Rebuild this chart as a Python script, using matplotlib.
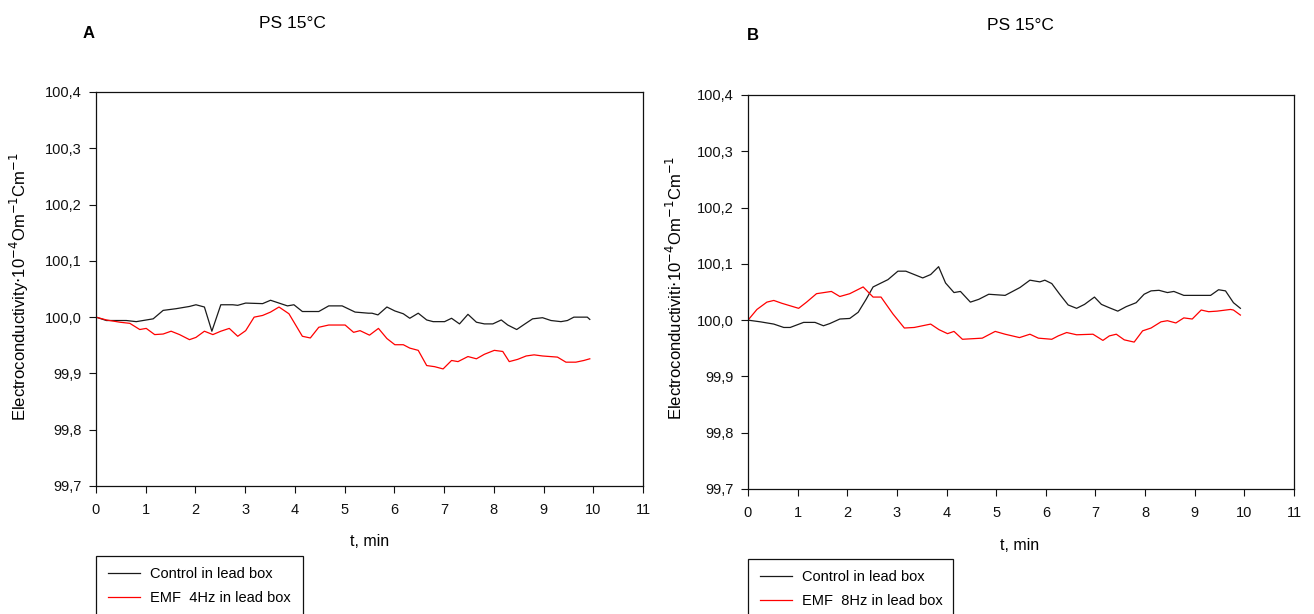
import matplotlib
matplotlib.use("Agg")
import matplotlib.pyplot as plt
from matplotlib.patches import Rectangle

plt.rcParams['font.family'] = ['Liberation Sans', 'DejaVu Sans']

# ---- Panel A: PS 15°C, control vs EMF 4 Hz ----
a_ctrl_t = [0.0, 0.21, 0.61, 0.81, 1.15, 1.35, 1.61, 1.88, 2.01, 2.18, 2.33, 2.51,
            2.75, 2.85, 3.01, 3.35, 3.51, 3.68, 3.85, 3.98, 4.15, 4.48, 4.68, 4.95,
            5.21, 5.48, 5.55, 5.67, 5.85, 6.01, 6.18, 6.31, 6.48, 6.65, 6.78, 7.01,
            7.15, 7.31, 7.48, 7.65, 7.81, 7.98, 8.15, 8.28, 8.46, 8.61, 8.78, 8.98,
            9.15, 9.35, 9.48, 9.61, 9.88, 9.93]
a_ctrl_v = [100.000, 99.994, 99.994, 99.992, 99.997, 100.012, 100.015, 100.019, 100.022,
            100.018, 99.975, 100.022, 100.022, 100.021, 100.025, 100.024, 100.030, 100.025,
            100.020, 100.022, 100.010, 100.010, 100.020, 100.020, 100.009, 100.007, 100.007,
            100.004, 100.018, 100.011, 100.006, 99.998, 100.007, 99.995, 99.992, 99.992,
            99.998, 99.988, 100.005, 99.991, 99.988, 99.988, 99.995, 99.986, 99.978,
            99.987, 99.997, 99.999, 99.994, 99.992, 99.994, 100.000, 100.000, 99.996]

a_emf_t = [0.0, 0.21, 0.48, 0.68, 0.88, 1.01, 1.18, 1.35, 1.51, 1.68, 1.88, 2.01,
           2.18, 2.35, 2.51, 2.68, 2.85, 3.01, 3.18, 3.35, 3.51, 3.68, 3.88, 4.15,
           4.31, 4.48, 4.68, 5.01, 5.18, 5.31, 5.50, 5.68, 5.85, 6.01, 6.18, 6.31,
           6.48, 6.65, 6.81, 6.98, 7.15, 7.28, 7.48, 7.65, 7.81, 8.01, 8.18, 8.31,
           8.48, 8.65, 8.81, 8.98, 9.28, 9.45, 9.65, 9.81, 9.93]
a_emf_v = [100.000, 99.995, 99.991, 99.989, 99.978, 99.980, 99.969, 99.970, 99.975,
           99.969, 99.960, 99.964, 99.975, 99.969, 99.975, 99.980, 99.966, 99.976,
           100.000, 100.003, 100.009, 100.018, 100.006, 99.966, 99.963, 99.982, 99.986,
           99.986, 99.973, 99.976, 99.968, 99.980, 99.962, 99.951, 99.951, 99.945,
           99.941, 99.914, 99.912, 99.908, 99.923, 99.921, 99.930, 99.926, 99.934,
           99.941, 99.939, 99.921, 99.925, 99.931, 99.933, 99.931, 99.929, 99.920,
           99.920, 99.923, 99.926]

# ---- Panel B: PS 15°C, control vs EMF 8 Hz ----
b_ctrl_t = [0.0, 0.25, 0.52, 0.72, 0.85, 1.12, 1.35, 1.52, 1.65, 1.85, 2.05, 2.22,
            2.38, 2.52, 2.82, 3.02, 3.18, 3.52, 3.68, 3.84, 3.98, 4.15, 4.28, 4.48,
            4.65, 4.85, 5.18, 5.48, 5.68, 5.88, 5.98, 6.12, 6.28, 6.45, 6.62, 6.78,
            6.98, 7.12, 7.28, 7.45, 7.62, 7.82, 7.98, 8.12, 8.28, 8.45, 8.58, 8.78,
            9.05, 9.32, 9.48, 9.62, 9.78, 9.92]
b_ctrl_v = [100.000, 99.997, 99.993, 99.987, 99.987, 99.996, 99.996, 99.990, 99.994,
            100.002, 100.003, 100.014, 100.037, 100.059, 100.072, 100.087, 100.087,
            100.075, 100.081, 100.095, 100.066, 100.049, 100.051, 100.032, 100.037,
            100.046, 100.044, 100.058, 100.071, 100.068, 100.071, 100.065, 100.046,
            100.027, 100.021, 100.028, 100.041, 100.028, 100.022, 100.016, 100.024,
            100.031, 100.046, 100.052, 100.053, 100.049, 100.051, 100.044, 100.044,
            100.044, 100.054, 100.052, 100.031, 100.021]

b_emf_t = [0.0, 0.18, 0.38, 0.52, 0.68, 1.02, 1.18, 1.38, 1.68, 1.85, 2.05, 2.32,
           2.52, 2.68, 2.92, 3.15, 3.35, 3.68, 3.85, 4.02, 4.15, 4.32, 4.72, 4.98,
           5.18, 5.47, 5.68, 5.85, 6.12, 6.25, 6.42, 6.62, 6.95, 7.15, 7.28, 7.42,
           7.58, 7.78, 7.95, 8.12, 8.32, 8.45, 8.62, 8.78, 8.95, 9.13, 9.28, 9.45,
           9.72, 9.78, 9.92]
b_emf_v = [100.000, 100.019, 100.032, 100.035, 100.030, 100.021, 100.032, 100.047,
           100.051, 100.042, 100.047, 100.059, 100.041, 100.041, 100.011, 99.986,
           99.987, 99.993, 99.983, 99.976, 99.980, 99.966, 99.968, 99.980, 99.975,
           99.969, 99.975, 99.968, 99.966, 99.972, 99.978, 99.974, 99.975, 99.964,
           99.972, 99.975, 99.965, 99.961, 99.981, 99.986, 99.997, 99.999, 99.995,
           100.004, 100.002, 100.018, 100.015, 100.016, 100.019, 100.018, 100.009]

x_ticks = list(range(0, 12))
y_ticks = [99.7, 99.8, 99.9, 100.0, 100.1, 100.2, 100.3, 100.4]
y_tick_labels = ["99,7", "99,8", "99,9", "100,0", "100,1", "100,2", "100,3", "100,4"]

W, H = 1314, 614
fig = plt.figure(figsize=(W / 100, H / 100), dpi=100)


def fx(px):
    return px / W


def fy(py):
    return 1 - py / H


CTRL_COLOR = "#1a1a1a"
EMF_COLOR = "#ff0000"


def make_panel(rect, ctrl_t, ctrl_v, emf_t, emf_v):
    left, top, right, bottom = rect
    ax = fig.add_axes([fx(left), fy(bottom), fx(right - left), (bottom - top) / H])
    l1, = ax.plot(ctrl_t, ctrl_v, color=CTRL_COLOR, lw=0.9)
    l2, = ax.plot(emf_t, emf_v, color=EMF_COLOR, lw=0.9)
    ax.set_xlim(0, 11)
    ax.set_ylim(99.7, 100.4)
    ax.set_xticks(x_ticks)
    ax.set_xticklabels([str(v) for v in x_ticks])
    ax.set_yticks(y_ticks)
    ax.set_yticklabels(y_tick_labels)
    ax.tick_params(direction="out", length=5, width=0.8, labelsize=10.5,
                   colors="#111111")
    ax.tick_params(axis="x", pad=7)
    ax.tick_params(axis="y", pad=5)
    for s in ax.spines.values():
        s.set_linewidth(0.9)
        s.set_color("#111111")
    return ax, l1, l2


axA, a1, a2 = make_panel((96, 92, 643, 486), a_ctrl_t, a_ctrl_v, a_emf_t, a_emf_v)
axB, b1, b2 = make_panel((748, 95, 1294, 489), b_ctrl_t, b_ctrl_v, b_emf_t, b_emf_v)

# panel letters and titles
fig.text(fx(83), fy(33), "A", fontsize=12, fontweight="bold", va="center", ha="left")
fig.text(fx(747), fy(35), "B", fontsize=12, fontweight="bold", va="center", ha="left")
fig.text(fx(292), fy(24), "PS 15°C", fontsize=12.5, va="center", ha="center")
fig.text(fx(1020), fy(26), "PS 15°C", fontsize=12.5, va="center", ha="center")

# axis titles
fig.text(fx(370), fy(541), "t, min", fontsize=11.5, va="center", ha="center")
fig.text(fx(1020), fy(545), "t, min", fontsize=11.5, va="center", ha="center")
fig.text(fx(19), fy(287), r"Electroconductivity$\cdot$10$^{-4}$Om$^{-1}$Cm$^{-1}$",
         fontsize=12, rotation=90, va="center", ha="center")
fig.text(fx(675), fy(288), r"Electroconductiviti$\cdot$10$^{-4}$Om$^{-1}$Cm$^{-1}$",
         fontsize=12, rotation=90, va="center", ha="center")


def legend_box(x0, y0, x1, handles, labels):
    fig.patches.append(Rectangle((fx(x0), fy(H + 20)), fx(x1 - x0), (H + 20 - y0) / H,
                                 transform=fig.transFigure, fill=False,
                                 edgecolor="#111111", lw=0.9))
    fig.legend(handles, labels, loc="upper left",
               bbox_to_anchor=(fx(x0 + 8), fy(y0 + 7)), frameon=False,
               fontsize=10.5, handlelength=2.2, handletextpad=0.68,
               labelspacing=0.68, borderpad=0.3, borderaxespad=0)


legend_box(96, 556, 303, [a1, a2], ["Control in lead box", "EMF  4Hz in lead box"])
legend_box(748, 559, 953, [b1, b2], ["Control in lead box", "EMF  8Hz in lead box"])

fig.savefig("out.png", dpi=100)
